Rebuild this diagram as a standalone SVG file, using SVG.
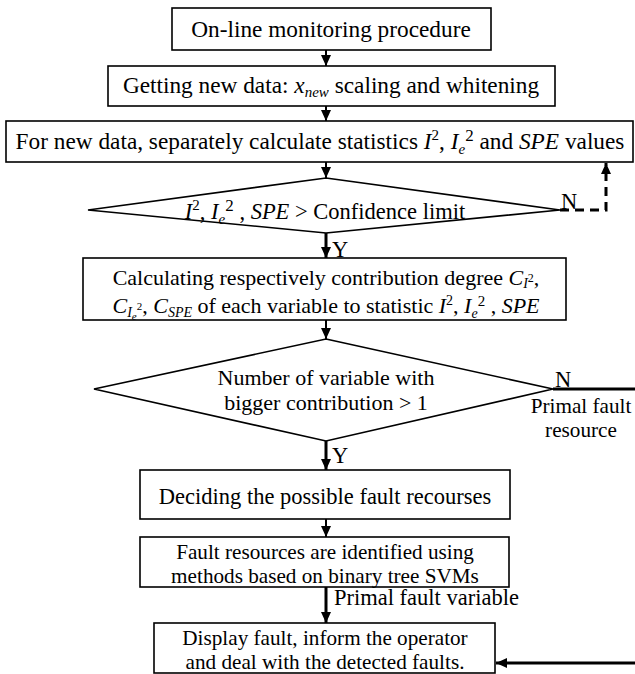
<svg xmlns="http://www.w3.org/2000/svg" width="635" height="674" viewBox="0 0 635 674" font-family="'Liberation Serif', 'Times New Roman', Times, serif">
<style>
.box{fill:#fff;stroke:#000;stroke-width:1.6}
.t{font-family:'Liberation Serif','Times New Roman',Times,serif;font-size:22.5px;fill:#000}
.big{font-size:23.3px}
.two{font-size:21.2px}
.mid{font-size:22px}
.c{text-anchor:middle}
.i{font-style:italic}
.ln{fill:none;stroke:#000;stroke-width:2}
.thick{fill:none;stroke:#000;stroke-width:3}
.dash{fill:none;stroke:#000;stroke-width:3;stroke-dasharray:9,6}
</style>
<defs>
<marker id="ah" viewBox="0 0 11 10" markerWidth="11" markerHeight="10" refX="11" refY="5" orient="auto" markerUnits="userSpaceOnUse">
<path d="M0,0 L11,5 L0,10 z" fill="#000"/>
</marker>
</defs>
<rect width="635" height="674" fill="#fff"/>
<g id="connectors">
<line class="ln" x1="326" y1="50" x2="326" y2="66" marker-end="url(#ah)"/>
<line class="ln" x1="326" y1="106" x2="326" y2="121" marker-end="url(#ah)"/>
<line class="ln" x1="326" y1="162" x2="326" y2="178" marker-end="url(#ah)"/>
<polyline class="dash" points="560,210 606,210 606,163" marker-end="url(#ah)"/>
<line class="thick" x1="326" y1="233" x2="326" y2="258" marker-end="url(#ah)"/>
<line class="ln" x1="326" y1="320" x2="326" y2="339" marker-end="url(#ah)"/>
<line class="thick" x1="553" y1="389" x2="635" y2="389"/>
<line class="thick" x1="326" y1="441" x2="326" y2="470" marker-end="url(#ah)"/>
<line class="ln" x1="326" y1="519" x2="326" y2="537" marker-end="url(#ah)"/>
<line class="thick" x1="326" y1="587" x2="326" y2="623" marker-end="url(#ah)"/>
<line class="thick" x1="635" y1="663" x2="496" y2="663" marker-end="url(#ah)"/>
<text class="t" x="561" y="209">N</text>
<text class="t" x="332" y="257">Y</text>
<text class="t" x="555" y="387">N</text>
<text class="t two c" x="581" y="413">Primal fault</text>
<text class="t two c" x="581" y="437">resource</text>
<text class="t" x="332" y="463">Y</text>
<text class="t" x="334" y="605">Primal fault variable</text>
</g>
<g id="n1">
<rect class="box" x="172" y="8" width="319" height="42"/>
<text class="t big c" x="331" y="37">On-line monitoring procedure</text>
</g>
<g id="n2">
<rect class="box" x="108" y="66" width="447" height="40"/>
<text class="t big c" x="331" y="93">Getting new data: <tspan class="i">x</tspan><tspan class="i" font-size="15" dy="4">new</tspan><tspan dy="-4"> scaling and whitening</tspan></text>
</g>
<g id="n3">
<rect class="box" x="6" y="121" width="627" height="41"/>
<text class="t big c" x="320" y="149">For new data, separately calculate statistics <tspan class="i">I</tspan><tspan font-size="15" dy="-9">2</tspan><tspan dy="9">, </tspan><tspan class="i">I</tspan><tspan class="i" font-size="15" dy="5">e</tspan><tspan font-size="17" dy="-13">2</tspan><tspan dy="8"> and </tspan><tspan class="i">SPE</tspan> values</text>
</g>
<g id="n4">
<polygon class="box" points="326,178 560,210 326,233 88,210"/>
<text class="t c" x="325" y="219"><tspan class="i">I</tspan><tspan font-size="15" dy="-9">2</tspan><tspan dy="9">, </tspan><tspan class="i">I</tspan><tspan class="i" font-size="15" dy="5">e</tspan><tspan font-size="17" dy="-13">2</tspan><tspan dy="8"> , </tspan><tspan class="i">SPE</tspan> &gt; Confidence limit</text>
</g>
<g id="n5">
<rect class="box" x="83" y="258" width="483" height="62"/>
<text class="t mid c" x="326" y="285">Calculating respectively contribution degree <tspan class="i">C</tspan><tspan class="i" font-size="14" dy="3">I</tspan><tspan font-size="12" dy="-6">2</tspan><tspan dy="3">,</tspan></text>
<text class="t mid c" x="326" y="313"><tspan class="i">C</tspan><tspan class="i" font-size="14" dy="4">I</tspan><tspan class="i" font-size="11" dy="3">e</tspan><tspan font-size="11" dy="-10">2</tspan><tspan dy="3">, </tspan><tspan class="i">C</tspan><tspan class="i" font-size="14" dy="4">SPE</tspan><tspan dy="-4"> of each variable to statistic </tspan><tspan class="i">I</tspan><tspan font-size="14" dy="-8">2</tspan><tspan dy="8">, </tspan><tspan class="i">I</tspan><tspan class="i" font-size="14" dy="5">e</tspan><tspan font-size="15" dy="-12">2</tspan><tspan dy="7"> , </tspan><tspan class="i">SPE</tspan></text>
</g>
<g id="n6">
<polygon class="box" points="326,339 553,389 326,441 94,389"/>
<text class="t mid c" x="326" y="385">Number of variable with</text>
<text class="t mid c" x="326" y="410">bigger contribution &gt; 1</text>
</g>
<g id="n7">
<rect class="box" x="140" y="470" width="370" height="49"/>
<text class="t c" x="325" y="504">Deciding the possible fault recourses</text>
</g>
<g id="n8">
<rect class="box" x="140" y="537" width="369" height="50"/>
<text class="t two c" x="325" y="559">Fault resources are identified using</text>
<text class="t two c" x="325" y="582.5">methods based on binary tree SVMs</text>
</g>
<g id="n9">
<rect class="box" x="154" y="623" width="341" height="50"/>
<text class="t two c" x="325" y="645">Display fault, inform the operator</text>
<text class="t two c" x="325" y="668.5">and deal with the detected faults.</text>
</g>
</svg>
